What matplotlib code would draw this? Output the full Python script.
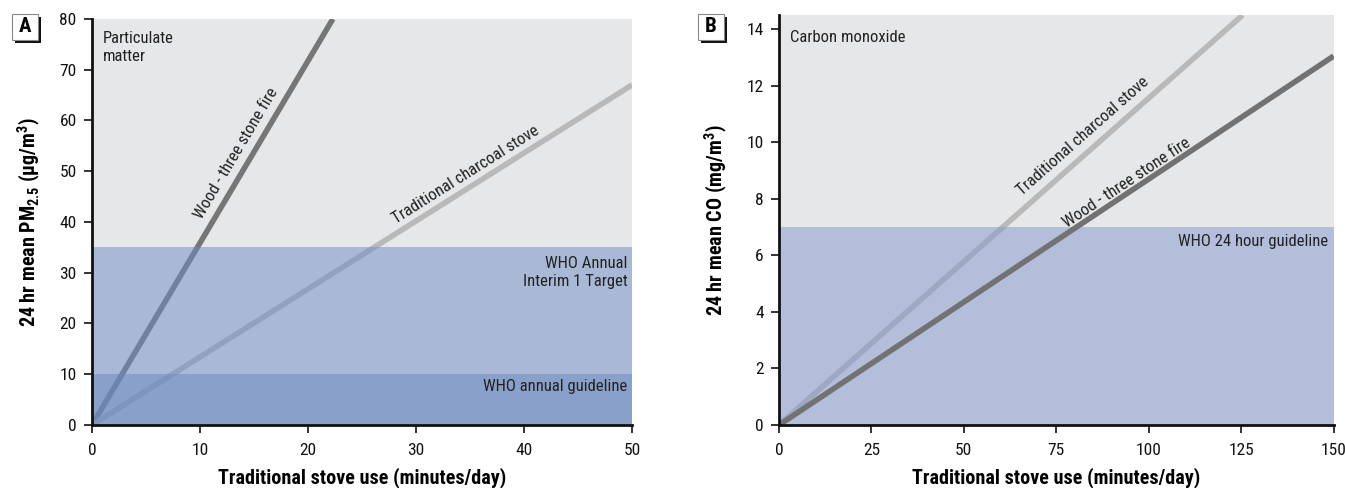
import matplotlib
matplotlib.use('Agg')
import numpy as np
import matplotlib.pyplot as plt
from matplotlib.patches import Rectangle

plt.rcParams['font.family'] = ['Roboto Condensed', 'Liberation Sans']
plt.rcParams['mathtext.fontset'] = 'custom'
plt.rcParams['mathtext.rm'] = 'Roboto Condensed'
plt.rcParams['mathtext.bf'] = 'Roboto Condensed:bold'

# Panel A: particulate matter
pm_x_max = 50
pm_y_max = 80
pm_wood_x = [0, 22.3]
pm_wood_y = [0, 80]
pm_charcoal_x = [0, 50]
pm_charcoal_y = [0, 67]
pm_interim = 35
pm_guideline = 10
pm_xticks = [0, 10, 20, 30, 40, 50]
pm_yticks = [0, 10, 20, 30, 40, 50, 60, 70, 80]

# Panel B: carbon monoxide
co_x_max = 150
co_y_max = 14.5
co_wood_x = [0, 150]
co_wood_y = [0, 13.05]
co_charcoal_x = [0, 125.4]
co_charcoal_y = [0, 14.5]
co_guideline = 7
co_xticks = [0, 25, 50, 75, 100, 125, 150]
co_yticks = [0, 2, 4, 6, 8, 10, 12, 14]

BG = '#e6e7e8'
WOOD = '#767676'
CHARCOAL = '#b9b9b9'

fig = plt.figure(figsize=(13.45, 4.88), dpi=100)
axA = fig.add_axes([0.0684, 0.1291, 0.4015, 0.832])
axB = fig.add_axes([0.5792, 0.1291, 0.4123, 0.840])


def style_axes(ax, xmax, ymax, xticks, yticks):
    ax.set_xlim(0, xmax)
    ax.set_ylim(0, ymax)
    ax.set_facecolor(BG)
    ax.set_xticks(xticks)
    ax.set_yticks(yticks)
    for s in ['top', 'right']:
        ax.spines[s].set_visible(False)
    for s in ['left', 'bottom']:
        ax.spines[s].set_linewidth(2)
        ax.spines[s].set_color('#111111')
        ax.spines[s].set_zorder(10)
    ax.tick_params(length=6, width=1.2, labelsize=12.5, colors='#111111', pad=5)
    ax.tick_params(axis='x', pad=7)
    ax.set_xlabel('Traditional stove use (minutes/day)', fontsize=14.5,
                  fontweight='bold', labelpad=7)


def line_label(ax, text, x, y, x0, y0, x1, y1):
    angle = np.degrees(np.arctan2(y1 - y0, x1 - x0))
    ax.text(x, y, text, rotation=angle, transform_rotates_text=True,
            rotation_mode='anchor', ha='center', va='center', fontsize=12,
            color='#222222', zorder=6)


# ---- Panel A
style_axes(axA, pm_x_max, pm_y_max, pm_xticks, pm_yticks)
axA.plot(pm_wood_x, pm_wood_y, color=WOOD, lw=4, solid_capstyle='butt', zorder=2)
axA.plot(pm_charcoal_x, pm_charcoal_y, color=CHARCOAL, lw=4, solid_capstyle='butt', zorder=2)
axA.axhspan(0, pm_interim, color='#6c8bc6', alpha=0.5, lw=0, zorder=3)
axA.axhspan(0, pm_guideline, color='#6b8bbf', alpha=0.5, lw=0, zorder=3)
axA.text(1.0, 77.6, 'Particulate\nmatter', fontsize=12, color='#222222',
         va='top', ha='left', linespacing=1.25)
axA.text(49.6, 33.3, 'WHO Annual\nInterim 1 Target', fontsize=12, color='#222222',
         va='top', ha='right', linespacing=1.25, zorder=6)
axA.text(49.6, 9.0, 'WHO annual guideline', fontsize=12, color='#222222',
         va='top', ha='right', zorder=6)
line_label(axA, 'Wood - three stone fire', 13.4, 53.6, pm_wood_x[0], pm_wood_y[0],
           pm_wood_x[1], pm_wood_y[1])
line_label(axA, 'Traditional charcoal stove', 34.6, 49.3, pm_charcoal_x[0], pm_charcoal_y[0],
           pm_charcoal_x[1], pm_charcoal_y[1])
axA.set_ylabel(r'24 hr mean PM$_{\mathbf{2.5}}$ (µg/m$^{\mathbf{3}}$)', fontsize=14.5,
               fontweight='bold', labelpad=12)

# ---- Panel B
style_axes(axB, co_x_max, co_y_max, co_xticks, co_yticks)
axB.plot(co_charcoal_x, co_charcoal_y, color=CHARCOAL, lw=4, solid_capstyle='butt', zorder=2)
axB.axhspan(0, co_guideline, color='#8299ce', alpha=0.5, lw=0, zorder=3)
axB.plot(co_wood_x, co_wood_y, color='#727272', lw=4, solid_capstyle='butt', zorder=4)
axB.text(3, 13.7, 'Carbon monoxide', fontsize=12, color='#222222',
         va='center', ha='left')
axB.text(148.5, 6.75, 'WHO 24 hour guideline', fontsize=12, color='#222222',
         va='top', ha='right', zorder=6)
line_label(axB, 'Traditional charcoal stove', 82.2, 10.2, co_charcoal_x[0], co_charcoal_y[0],
           co_charcoal_x[1], co_charcoal_y[1])
line_label(axB, 'Wood - three stone fire', 94.0, 8.55, co_wood_x[0], co_wood_y[0],
           co_wood_x[1], co_wood_y[1])
axB.set_ylabel(r'24 hr mean CO (mg/m$^{\mathbf{3}}$)', fontsize=14.5,
               fontweight='bold', labelpad=12)


# panel letters in shadowed boxes
def panel_box(letter, px, py, size=26):
    W, H = 1345.0, 488.0
    fig.patches.append(Rectangle(((px + 3) / W, 1 - (py + size + 3) / H), size / W, size / H,
                                 transform=fig.transFigure, facecolor='#111111',
                                 edgecolor='none', zorder=1))
    fig.patches.append(Rectangle((px / W, 1 - (py + size) / H), size / W, size / H,
                                 transform=fig.transFigure, facecolor='white',
                                 edgecolor='#888888', lw=0.8, zorder=2))
    fig.text((px + size / 2) / W, 1 - (py + size / 2) / H, letter, fontsize=15,
             fontweight='bold', ha='center', va='center', zorder=3)


panel_box('A', 12, 14)
panel_box('B', 698, 14)

fig.savefig('out.png', dpi=100)
